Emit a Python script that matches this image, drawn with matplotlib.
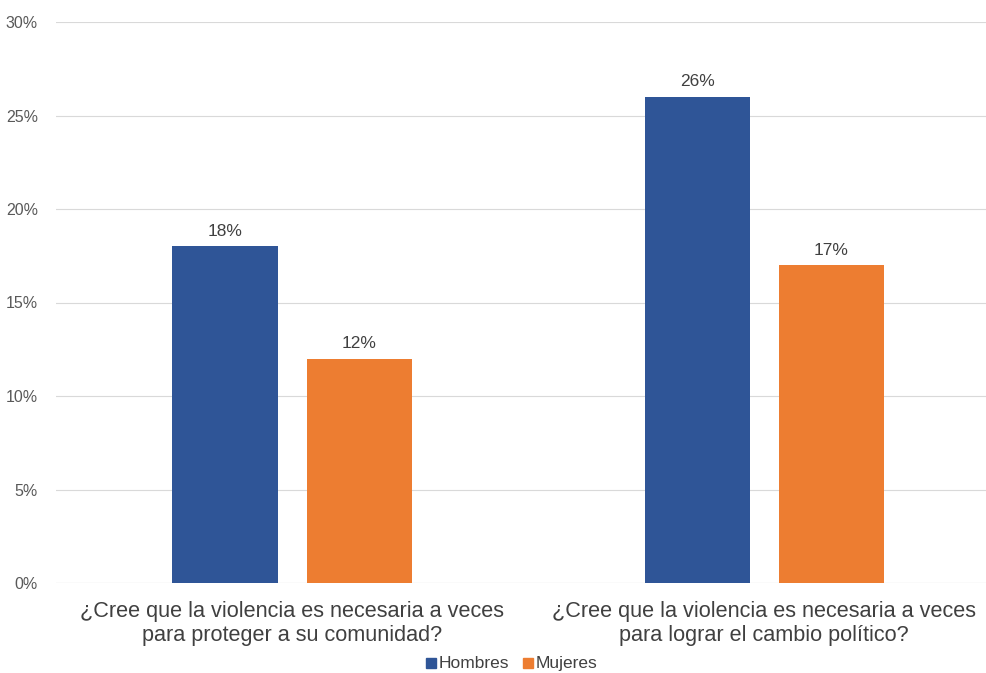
import matplotlib
matplotlib.use("Agg")
import matplotlib.pyplot as plt
from matplotlib.patches import Rectangle
import numpy as np

categories = ["¿Cree que la violencia es necesaria a veces\npara proteger a su comunidad?",
              "¿Cree que la violencia es necesaria a veces\npara lograr el cambio político?"]
series_names = ["Hombres", "Mujeres"]
hombres = [18, 26]
mujeres = [12, 17]
colors = ["#2F5597", "#ED7D31"]
yticks = [0, 5, 10, 15, 20, 25, 30]

plt.rcParams['font.family'] = ['Liberation Sans', 'DejaVu Sans']

fig = plt.figure(figsize=(9.87, 6.73), dpi=100)
ax = fig.add_axes([56/987, 90/673, 931/987, 561/673])

x = np.arange(len(categories))
w = 0.2225
off = 0.142
b1 = ax.bar(x - off, hombres, w, color=colors[0], label=series_names[0], zorder=3)
b2 = ax.bar(x + off, mujeres, w, color=colors[1], label=series_names[1], zorder=3)

for bars, vals in ((b1, hombres), (b2, mujeres)):
    for r, v in zip(bars, vals):
        ax.text(r.get_x() + r.get_width()/2, v + 0.4, f"{v}%", ha="center", va="bottom",
                fontsize=12.5, color="#404040")

ax.set_xlim(-0.5, 1.472)
ax.set_ylim(0, 30)
ax.set_yticks(yticks)
ax.set_yticklabels([f"{t}%" for t in yticks], fontsize=11.5, color="#595959")
ax.set_xticks(x)
ax.set_xticklabels(categories, fontsize=15.6, color="#404040", linespacing=1.2)
ax.tick_params(axis="both", length=0)
ax.tick_params(axis="y", pad=13)
ax.tick_params(axis="x", pad=13)
ax.grid(axis="y", color="#d9d9d9", linewidth=0.8, zorder=0)
for s in ax.spines.values():
    s.set_visible(False)
ax.axhline(0, color="#d9d9d9", linewidth=0.8, zorder=1)

# legend (drawn manually so both labels share one baseline)
W, H = 987, 673
legend_items = [(series_names[0], colors[0], 426), (series_names[1], colors[1], 523)]
for name, col, px in legend_items:
    fig.patches.append(Rectangle((px / W, (H - 668) / H), 10 / W, 10 / H,
                                 transform=fig.transFigure, color=col, figure=fig))
    fig.text((px + 13) / W, (H - 668) / H, name, ha="left", va="baseline",
             fontsize=12.5, color="#404040")

fig.savefig("out.png", dpi=100, facecolor="white")
